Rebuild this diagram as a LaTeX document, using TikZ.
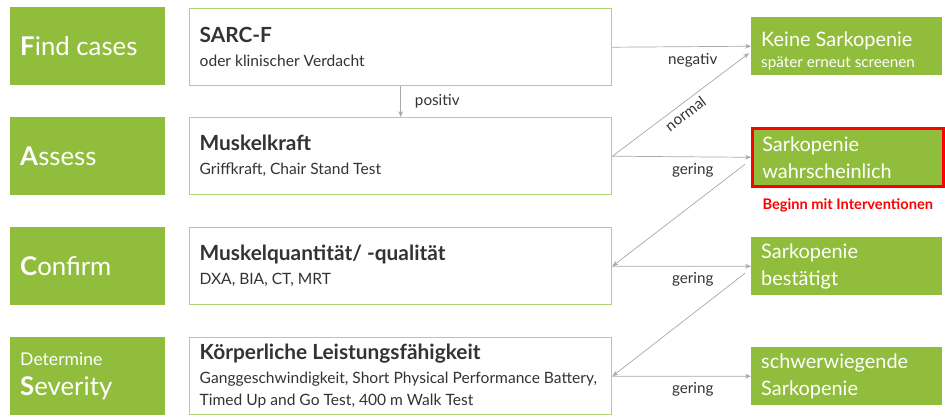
\documentclass[tikz,border=0pt]{standalone}
\usepackage{fontspec}
\setmainfont{Lato}
\usetikzlibrary{calc, arrows.meta, positioning}
\definecolor{sgreen}{HTML}{91BD3C}
\definecolor{sframe}{HTML}{B0D377}
\definecolor{sgray}{HTML}{A8A8A8}
\definecolor{stext}{HTML}{333333}
\definecolor{sred}{HTML}{FF0000}

\tikzset{
  plain spaces/.style={align=flush left, execute at begin node={\spaceskip=0pt\xspaceskip=0pt}},
  phase/.style={fill=sgreen, text=white, anchor=north west, inner xsep=0.3cm, inner ysep=0pt,
    text width=4.05cm, minimum height=2.34cm, plain spaces, font=\fontsize{22}{26}\selectfont},
  testbox/.style={draw=sframe, line width=1.2pt, fill=white, text=stext, anchor=north west,
    inner xsep=0.3cm, inner ysep=0pt, text width=12.06cm, minimum height=2.31cm, plain spaces,
    font=\fontsize{13.3}{19}\selectfont},
  result/.style={fill=sgreen, text=white, anchor=north west, inner xsep=0.3cm, inner ysep=0pt,
    text width=5.13cm, minimum height=1.74cm, plain spaces, font=\fontsize{17}{23}\selectfont},
  flow/.style={draw=sgray, line width=0.6pt, -{Stealth[length=5pt, width=4pt]}},
  cond/.style={text=stext, font=\fontsize{13}{15}\selectfont}
}
\newcommand{\testtitle}[1]{{\fontsize{17.8}{20}\selectfont\bfseries #1}\\[1.5pt]}
\newcommand{\smalltext}[1]{{\fontsize{13}{15}\selectfont #1}}

\begin{document}
\begin{tikzpicture}[x=0.03cm, y=-0.03cm]
  \useasboundingbox (0,0) rectangle (945,416);

  % Phases
  \node[phase] (find) at (10,7) {\textbf{F}ind cases};
  \node[phase] (assess) at (10,117) {\textbf{A}ssess};
  \node[phase] (confirm) at (10,227) {\textbf{C}onfirm};
  \node[phase] (severity) at (10,337) {{\fontsize{15}{18}\selectfont Determine}\\\textbf{S}everity};

  % Tests
  \node[testbox] (sarc) at (189,8) {\testtitle{SARC-F}oder klinischer Verdacht};
  \node[testbox] (kraft) at (189,117) {\testtitle{Muskelkraft}Griffkraft, Chair Stand Test};
  \node[testbox] (quant) at (189,227) {\testtitle{Muskelquantität/ -qualität}DXA, BIA, CT, MRT};
  \node[testbox] (koerp) at (189,337) {\testtitle{Körperliche Leistungsfähigkeit}Ganggeschwindigkeit, Short Physical Performance Battery,\\Timed Up and Go Test, 400 m Walk Test};

  % Results
  \node[result] (keine) at (751,17) {\rule{0pt}{21pt}Keine Sarkopenie\\[-5pt]\smalltext{später erneut screenen}};
  \node[result, draw=sred, line width=2.2pt] (wahr) at (751,127) {Sarkopenie\\wahrscheinlich};
  \node[below=0.2cm of wahr, text=sred, font=\bfseries\fontsize{12.5}{14}\selectfont] (begin) {Beginn mit Interventionen};
  \node[result] (best) at (751,237) {Sarkopenie\\bestätigt};
  \node[result] (schwer) at (751,347) {schwerwiegende\\Sarkopenie};

  % Arrows
  \draw[flow] (sarc) -- node[cond, right=0.3cm] {positiv} (kraft);
  \draw[flow] (sarc.east) -- node[cond, below=2pt, pos=0.58] {negativ} (keine.west);
  \draw[flow] (kraft.east) -- node[cond, sloped, below, pos=0.49] {normal} ($(keine.west)+(-2,7)$);
  \draw[flow] (kraft.east) -- node[cond, below=2pt, pos=0.58] {gering} (wahr.west);
  \draw[flow] ($(wahr.west)+(-6,7)$) -- (quant.east);
  \draw[flow] (quant.east) -- node[cond, below=2pt, pos=0.58] {gering} (best.west);
  \draw[flow] ($(best.west)+(-6,7)$) -- (koerp.east);
  \draw[flow] (koerp.east) -- node[cond, below=2pt, pos=0.58] {gering} (schwer.west);
\end{tikzpicture}
\end{document}
